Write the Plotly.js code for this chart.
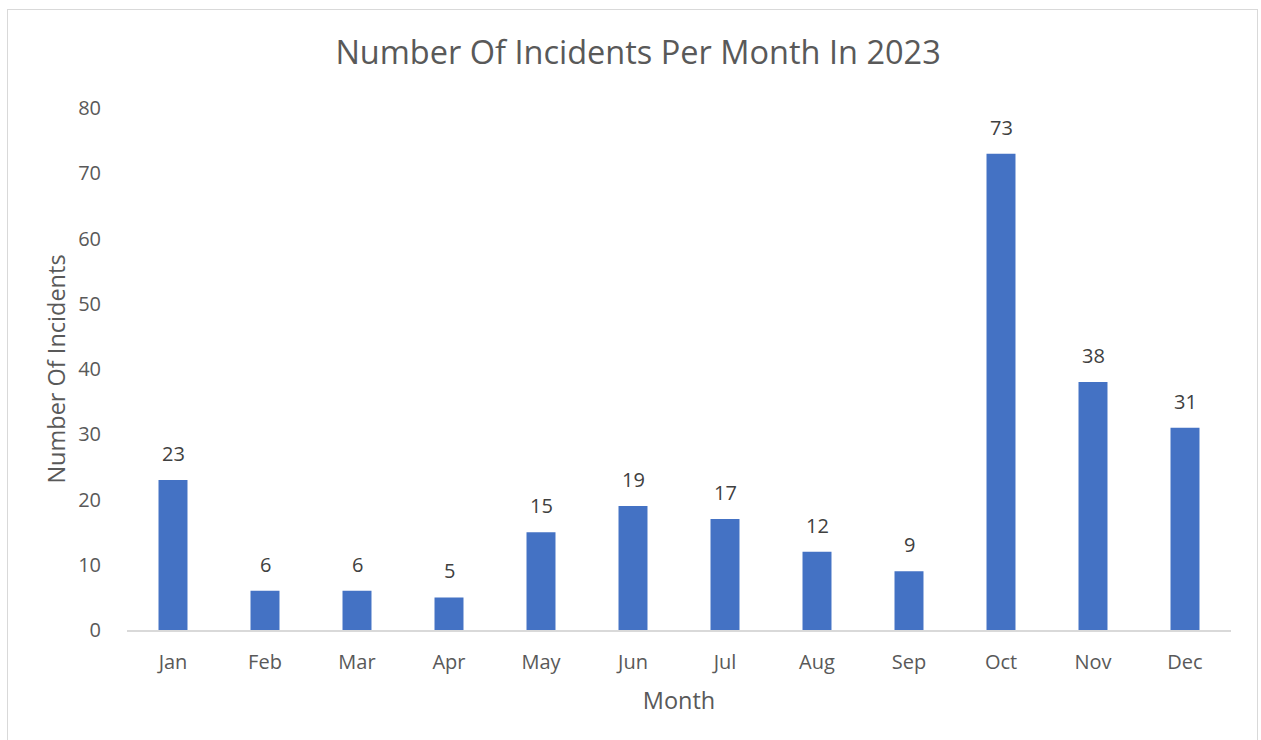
<!DOCTYPE html>
<html>
<head>
<meta charset="utf-8">
<script src="https://cdn.plot.ly/plotly-3.0.1.min.js"></script>
<style>
  html, body { margin: 0; padding: 0; background: #ffffff; }
  #wrap { position: relative; width: 1261px; height: 740px; overflow: hidden; }
  #chart { position: absolute; left: 0; top: 0; width: 1261px; height: 740px; }
  #frame { position: absolute; left: 7px; top: 9px; width: 1251px; height: 760px;
           border: 1.5px solid #d9d9d9; pointer-events: none; box-sizing: border-box; }
</style>
</head>
<body>
<div id="wrap">
  <div id="chart"></div>
  <div id="frame"></div>
</div>
<script>
const months = ["Jan","Feb","Mar","Apr","May","Jun","Jul","Aug","Sep","Oct","Nov","Dec"];
const incidents = [23, 6, 6, 5, 15, 19, 17, 12, 9, 73, 38, 31];
const yTicks = [0,10,20,30,40,50,60,70,80];

const textColor = "#595959";
const fontFamily = "'Open Sans', 'Noto Sans', sans-serif";

const trace = {
  type: "bar",
  x: months,
  y: incidents,
  marker: { color: "#4472C4", line: { width: 0 } },
  hoverinfo: "x+y"
};

const annotations = months.map((m, i) => ({
  x: m, y: incidents[i], xref: "x", yref: "y",
  text: String(incidents[i]),
  showarrow: false,
  yanchor: "bottom",
  yshift: 11,
  font: { family: fontFamily, size: 20, color: "#404040" }
}));

const layout = {
  width: 1261, height: 740,
  margin: { l: 127, r: 30, t: 108, b: 110 },
  paper_bgcolor: "#ffffff",
  plot_bgcolor: "#ffffff",
  showlegend: false,
  bargap: 0.685,
  title: {
    text: "Number Of Incidents Per Month In 2023",
    font: { family: fontFamily, size: 32.5, color: textColor },
    xref: "container", x: 0.506, xanchor: "center",
    yref: "container", y: 1 - 53/740, yanchor: "middle"
  },
  xaxis: {
    type: "category",
    showline: true, linecolor: "#d9d9d9", linewidth: 1.5,
    showgrid: false, zeroline: false,
    ticks: "outside", ticklen: 13, tickcolor: "rgba(0,0,0,0)",
    tickfont: { family: fontFamily, size: 20, color: textColor },
    title: { text: "Month", font: { family: fontFamily, size: 23.5, color: textColor }, standoff: 19 }
  },
  yaxis: {
    range: [0, 80],
    tickvals: yTicks,
    showline: false, showgrid: false, zeroline: false,
    ticks: "outside", ticklen: 21, tickcolor: "rgba(0,0,0,0)",
    tickfont: { family: fontFamily, size: 20, color: textColor },
    title: { text: "Number Of Incidents", font: { family: fontFamily, size: 23.5, color: textColor }, standoff: 5 }
  },
  annotations: annotations
};

Plotly.newPlot("chart", [trace], layout, { displayModeBar: false, staticPlot: false });
</script>
</body>
</html>
